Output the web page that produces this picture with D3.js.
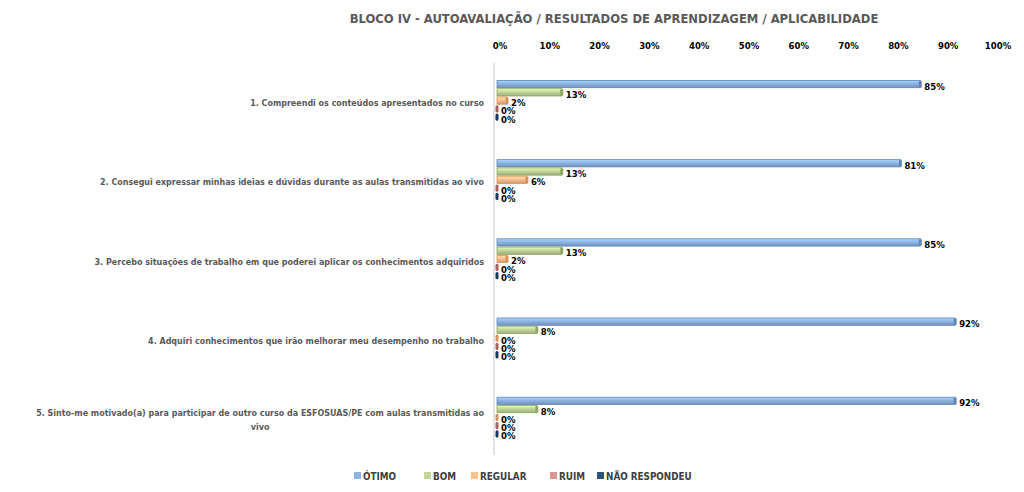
<!DOCTYPE html>
<html>
<head>
<meta charset="utf-8">
<script src="https://cdn.jsdelivr.net/npm/d3@7"></script>
<style>
  body { margin: 0; background: #fff; }
  svg text { font-family: "DejaVu Sans Condensed", "Liberation Sans", sans-serif; font-weight: bold; }
</style>
</head>
<body>
<svg id="chart" width="1024" height="492"></svg>
<script>
// categories (questions) and series
var questions = [
  "1. Compreendi os conteúdos apresentados no curso",
  "2. Consegui expressar minhas ideias e dúvidas durante as aulas transmitidas ao vivo",
  "3. Percebo situações de trabalho em que poderei aplicar os conhecimentos adquiridos",
  "4. Adquiri conhecimentos que irão melhorar meu desempenho no trabalho",
  "5. Sinto-me motivado(a) para participar de outro curso da ESFOSUAS/PE com aulas transmitidas ao vivo"
];
var seriesNames = ["ÓTIMO", "BOM", "REGULAR", "RUIM", "NÃO RESPONDEU"];

// percent values per series, one entry per question
var otimo    = [85, 81, 85, 92, 92];
var bom      = [13, 13, 13, 8, 8];
var regular  = [2, 6, 2, 0, 0];
var ruim     = [0, 0, 0, 0, 0];
var naoResp  = [0, 0, 0, 0, 0];

var ticks = [0, 10, 20, 30, 40, 50, 60, 70, 80, 90, 100];

var seriesValues = [otimo, bom, regular, ruim, naoResp];
var colors = ["#8EB4E3", "#C3D69B", "#FAC090", "#D99694", "#2C5282"];
var strokes = ["#5F86BC", "#8FA75E", "#D9915A", "#A9615F", "#1A3560"];

var svg = d3.select("#chart");

var x = d3.scaleLinear().domain([0, 100]).range([497, 995]);
var y0 = d3.scaleBand().domain(d3.range(questions.length)).range([63, 455])
  .paddingInner(0.49).paddingOuter(0.22);
var y1 = d3.scaleBand().domain(d3.range(seriesNames.length)).range([0, y0.bandwidth()])
  .paddingInner(0.12);

// gradients for the 3d-ish bars
var defs = svg.append("defs");
colors.forEach(function(c, i) {
  var g = defs.append("linearGradient").attr("id", "grad" + i)
    .attr("x1", 0).attr("y1", 0).attr("x2", 0).attr("y2", 1);
  g.append("stop").attr("offset", "0%").attr("stop-color", d3.color(c).brighter(0.5));
  g.append("stop").attr("offset", "45%").attr("stop-color", c);
  g.append("stop").attr("offset", "100%").attr("stop-color", d3.color(c).darker(0.6));
});

// title
svg.append("text")
  .attr("x", 614).attr("y", 23)
  .attr("text-anchor", "middle")
  .attr("fill", "#595959")
  .style("font-size", "12.9px")
  .text("BLOCO IV - AUTOAVALIAÇÃO / RESULTADOS DE APRENDIZAGEM / APLICABILIDADE");

// top axis tick labels
svg.append("g").selectAll("text")
  .data(ticks).enter().append("text")
  .attr("x", function(d) { return x(d) + 3; })
  .attr("y", 49)
  .attr("text-anchor", "middle")
  .attr("fill", "#000")
  .style("font-size", "9.5px")
  .text(function(d) { return d + "%"; });

// vertical axis line
svg.append("line")
  .attr("x1", 494).attr("x2", 494)
  .attr("y1", 63).attr("y2", 455)
  .attr("stroke", "#d9d9d9").attr("stroke-width", 1.5);

// category labels, wrapped, right-aligned block, centered lines
var labelG = svg.append("g");
questions.forEach(function(q, i) {
  var t = labelG.append("text")
    .attr("fill", "#595959")
    .style("font-size", "8.9px")
    .attr("text-anchor", "middle");
  var words = q.split(" "), lines = [], line = [];
  var probe = t.append("tspan");
  words.forEach(function(w) {
    line.push(w);
    probe.text(line.join(" "));
    if (probe.node().getComputedTextLength() > 450 && line.length > 1) {
      line.pop();
      lines.push(line.join(" "));
      line = [w];
    }
  });
  lines.push(line.join(" "));
  var maxW = 0;
  lines.forEach(function(l) {
    probe.text(l);
    maxW = Math.max(maxW, probe.node().getComputedTextLength());
  });
  probe.remove();
  var cx = 484 - maxW / 2;
  var cy = y0(i) + y0.bandwidth() / 2 + 2;
  var lh = 14;
  lines.forEach(function(l, k) {
    t.append("tspan")
      .attr("x", cx)
      .attr("y", cy + (k - (lines.length - 1) / 2) * lh + 3.5)
      .text(l);
  });
});

// bars
var groups = svg.append("g").selectAll("g")
  .data(questions).enter().append("g")
  .attr("transform", function(d, i) { return "translate(0," + y0(i) + ")"; });

groups.each(function(q, qi) {
  var g = d3.select(this);
  seriesValues.forEach(function(vals, si) {
    var v = vals[qi];
    var yy = y1(si), h = y1.bandwidth();
    var w = x(v) - x(0);
    if (w > 0) {
      g.append("rect")
        .attr("x", x(0)).attr("y", yy)
        .attr("width", w).attr("height", h)
        .attr("fill", "url(#grad" + si + ")")
        .attr("stroke", strokes[si]).attr("stroke-width", 0.8);
    }
    // end cap
    g.append("rect")
      .attr("x", x(v) - 1.5).attr("y", yy)
      .attr("width", 3).attr("height", h)
      .attr("rx", 1.5)
      .attr("fill", strokes[si]);
    g.append("text")
      .attr("x", x(v) + 4)
      .attr("y", yy + h / 2 + 5.5)
      .attr("fill", "#000")
      .style("font-size", "9.5px")
      .text(v + "%");
  });
});

// legend
var legendX = [354, 424, 471, 550, 597];
var legend = svg.append("g").selectAll("g")
  .data(seriesNames).enter().append("g")
  .attr("transform", function(d, i) { return "translate(" + legendX[i] + ",472)"; });
legend.append("rect")
  .attr("width", 7).attr("height", 7)
  .attr("fill", function(d, i) { return colors[i]; });
legend.append("text")
  .attr("x", 9).attr("y", 7.5)
  .attr("fill", "#404040")
  .style("font-size", "9.8px")
  .text(function(d) { return d; });
</script>
</body>
</html>
